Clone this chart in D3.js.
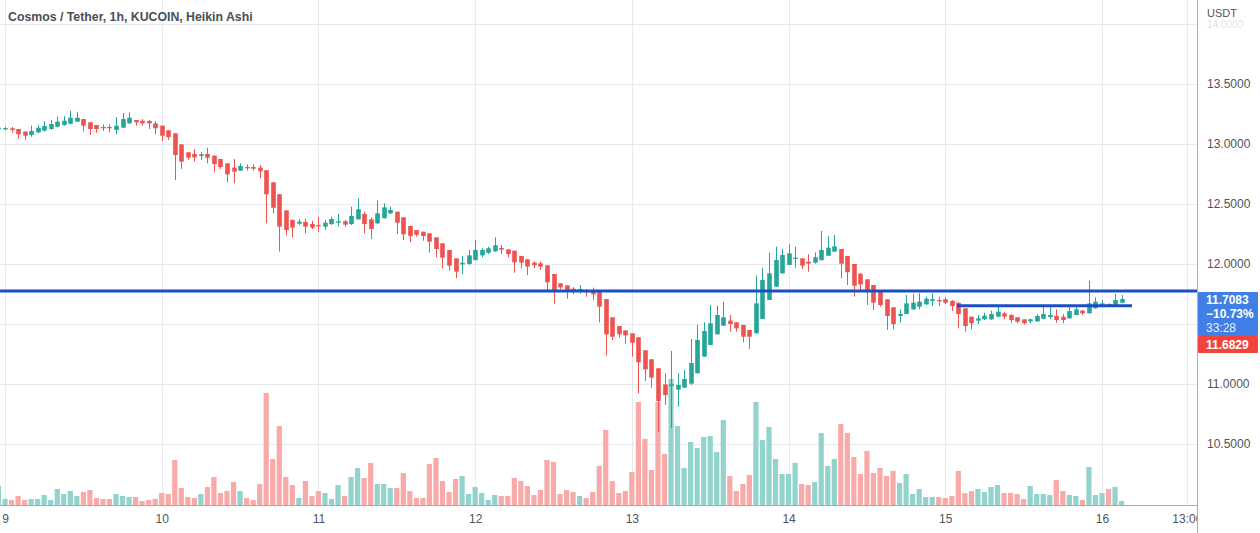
<!DOCTYPE html>
<html>
<head>
<meta charset="utf-8">
<script src="https://cdn.jsdelivr.net/npm/d3@7"></script>
<style>
html,body{margin:0;padding:0;background:#fff;}
svg{display:block;}
text{font-family:"Liberation Sans",Arial,sans-serif;}
</style>
</head>
<body>
<svg id="chart" width="1260" height="533"></svg>
<script>
// ---- data (hour index relative to day 9 00:00; first bar = day 8 23:00) ----
const title = "Cosmos / Tether, 1h, KUCOIN, Heikin Ashi";
const firstHour = -1;
const open = [13.122,13.122,13.131,13.125,13.103,13.075,13.097,13.111,13.125,13.144,13.158,13.169,13.186,13.208,13.181,13.158,13.142,13.142,13.117,13.136,13.172,13.200,13.194,13.192,13.172,13.153,13.114,13.089,12.997,12.931,12.917,12.900,12.917,12.903,12.875,12.839,12.803,12.778,12.808,12.808,12.803,12.781,12.681,12.581,12.447,12.367,12.336,12.350,12.333,12.325,12.311,12.333,12.344,12.356,12.333,12.372,12.417,12.372,12.339,12.381,12.422,12.436,12.389,12.317,12.283,12.269,12.256,12.222,12.172,12.117,12.047,11.997,12.000,12.033,12.072,12.094,12.106,12.133,12.122,12.111,12.067,12.039,12.011,12.006,11.989,11.917,11.839,11.822,11.794,11.775,11.781,11.775,11.769,11.708,11.556,11.483,11.447,11.422,11.389,11.281,11.206,11.131,10.997,10.983,10.953,10.969,11.003,11.089,11.228,11.325,11.414,11.486,11.528,11.514,11.492,11.450,11.422,11.542,11.700,11.811,11.922,11.992,12.042,12.047,12.019,12.011,12.031,12.069,12.103,12.125,12.067,12.000,11.920,11.872,11.825,11.769,11.706,11.639,11.567,11.583,11.622,11.644,11.664,11.692,11.700,11.706,11.692,11.678,11.631,11.561,11.528,11.539,11.539,11.561,11.589,11.575,11.556,11.539,11.522,11.522,11.544,11.558,11.567,11.561,11.547,11.575,11.611,11.589,11.631,11.658,11.667,11.658,11.678];
const high = [13.144,13.144,13.142,13.125,13.108,13.153,13.158,13.192,13.200,13.228,13.233,13.278,13.269,13.208,13.181,13.158,13.164,13.164,13.225,13.258,13.264,13.200,13.208,13.200,13.192,13.153,13.114,13.089,12.997,12.931,12.958,12.936,12.969,12.903,12.875,12.839,12.875,12.839,12.831,12.831,12.825,12.781,12.681,12.581,12.447,12.372,12.375,12.378,12.361,12.394,12.367,12.394,12.417,12.367,12.478,12.547,12.436,12.389,12.528,12.506,12.478,12.436,12.389,12.317,12.283,12.269,12.256,12.222,12.172,12.117,12.047,12.067,12.117,12.200,12.131,12.144,12.222,12.158,12.122,12.111,12.067,12.039,12.022,12.022,11.989,11.917,11.839,11.822,11.806,11.825,11.792,11.803,11.783,11.708,11.556,11.483,11.447,11.422,11.389,11.281,11.206,11.131,11.089,11.275,11.089,11.117,11.375,11.492,11.514,11.658,11.653,11.686,11.575,11.514,11.492,11.450,11.903,11.969,12.094,12.144,12.125,12.164,12.144,12.047,12.081,12.097,12.275,12.233,12.242,12.125,12.067,12.000,11.920,11.872,11.825,11.769,11.706,11.639,11.622,11.742,11.750,11.756,11.728,11.756,11.728,11.722,11.700,11.678,11.631,11.561,11.575,11.594,11.611,11.644,11.603,11.583,11.556,11.539,11.547,11.583,11.658,11.644,11.622,11.583,11.644,11.644,11.617,11.861,11.722,11.700,11.672,11.750,11.742];
const low = [13.114,13.114,13.092,13.042,13.033,13.061,13.089,13.103,13.119,13.139,13.153,13.164,13.186,13.103,13.075,13.094,13.108,13.097,13.081,13.131,13.167,13.153,13.153,13.125,13.081,13.025,13.033,12.700,12.792,12.867,12.853,12.867,12.839,12.764,12.792,12.681,12.672,12.778,12.778,12.778,12.714,12.339,12.422,12.103,12.236,12.222,12.325,12.256,12.292,12.269,12.283,12.325,12.311,12.311,12.325,12.372,12.256,12.208,12.333,12.381,12.417,12.250,12.200,12.181,12.228,12.194,12.094,12.056,11.964,11.944,11.881,11.917,11.992,12.028,12.056,12.083,12.100,12.083,12.056,11.928,11.964,11.908,11.964,11.950,11.769,11.667,11.789,11.711,11.750,11.756,11.728,11.700,11.514,11.236,11.367,11.386,11.331,11.228,10.922,11.025,10.969,10.600,10.825,10.630,10.811,10.969,10.992,11.089,11.228,11.325,11.414,11.486,11.436,11.436,11.347,11.292,11.422,11.542,11.700,11.811,11.922,11.992,11.969,11.958,11.936,12.003,12.031,12.069,12.103,11.881,11.825,11.728,11.778,11.658,11.617,11.644,11.450,11.456,11.511,11.583,11.617,11.622,11.658,11.650,11.650,11.667,11.608,11.464,11.436,11.456,11.500,11.533,11.533,11.556,11.539,11.511,11.506,11.497,11.506,11.517,11.539,11.539,11.511,11.506,11.544,11.572,11.575,11.589,11.628,11.644,11.650,11.656,11.672];
const close = [13.136,13.133,13.117,13.081,13.069,13.108,13.136,13.150,13.167,13.186,13.194,13.219,13.219,13.153,13.125,13.125,13.131,13.131,13.153,13.208,13.219,13.181,13.172,13.172,13.131,13.069,13.058,12.908,12.853,12.886,12.889,12.914,12.886,12.833,12.808,12.747,12.769,12.817,12.797,12.794,12.772,12.581,12.469,12.311,12.283,12.303,12.353,12.311,12.303,12.314,12.344,12.375,12.356,12.328,12.400,12.456,12.333,12.292,12.422,12.472,12.450,12.344,12.247,12.233,12.244,12.233,12.186,12.125,12.053,11.986,11.936,12.011,12.072,12.117,12.117,12.131,12.156,12.119,12.083,12.014,12.011,11.978,11.989,11.978,11.847,11.783,11.806,11.769,11.772,11.792,11.764,11.747,11.644,11.414,11.394,11.414,11.406,11.344,11.181,11.122,11.053,10.858,10.908,10.997,10.992,11.042,11.175,11.367,11.442,11.506,11.575,11.556,11.500,11.464,11.394,11.394,11.672,11.867,11.922,12.033,12.075,12.089,12.053,11.986,12.003,12.056,12.117,12.136,12.147,12.003,11.931,11.819,11.830,11.769,11.678,11.658,11.567,11.500,11.583,11.672,11.678,11.686,11.711,11.706,11.689,11.678,11.650,11.583,11.483,11.506,11.547,11.569,11.583,11.603,11.561,11.533,11.519,11.506,11.539,11.567,11.583,11.575,11.533,11.533,11.608,11.622,11.589,11.672,11.686,11.672,11.653,11.700,11.708];
const volume = [19,6,5,9,5,6,6,10,5,16,11,14,9,13,15,7,6,6,11,9,8,8,4,5,6,12,11,45,17,8,7,11,18,28,12,14,23,14,7,5,21,112,46,79,28,20,7,24,9,14,12,6,20,9,28,37,27,42,21,21,17,17,32,14,7,7,41,47,24,13,26,29,11,18,12,5,10,9,9,27,24,19,10,15,45,43,11,15,13,9,7,13,39,75,24,12,14,33,103,66,35,103,51,126,79,37,63,57,68,69,53,85,29,14,21,30,103,65,78,46,31,31,42,21,20,23,72,39,46,81,72,48,31,54,32,37,29,34,22,31,11,16,8,8,8,7,9,34,12,14,16,13,18,20,12,12,11,6,19,11,11,10,25,14,10,9,5,38,10,12,16,18,4];

const gridPrices = [10.5, 11.0, 11.5, 12.0, 12.5, 13.0, 13.5, 14.0];
const priceLabels = [10.5, 11.0, 12.0, 12.5, 13.0, 13.5];   // 11.5 sits under the last-price tag
const fadedLabel = 14.0;                                    // partly hidden under the currency label
const timeTickHours = [0, 24, 48, 72, 96, 120, 144, 168, 181];
const timeTickLabels = ["9", "10", "11", "12", "13", "14", "15", "16", "13:00"];
const hLines = [ {price: 11.775, from: null, to: null}, {price: 11.653, from: 145.8, to: 172.6} ];
const lastPrice = "11.7083", lastChange = "\u221210.73%", countdown = "33:28", otherPrice = "11.6829";

// ---- layout ----
const W = 1260, H = 533;
const plotRight = 1197, plotBottom = 505;
const svg = d3.select("#chart");
const x = d3.scaleLinear().domain([0, 168]).range([5, 1102]);
const y = d3.scaleLinear().domain([10.5, 14.0]).range([444, 24]);
const vMax = d3.max(volume);
const yv = d3.scaleLinear().domain([0, vMax]).range([plotBottom, plotBottom - 126]);

const UP = "#26a69a", DOWN = "#ef5350";
const UPV = "#92d3cd", DOWNV = "#f8aaa8";
const GRID = "#e7e9ec";
const AXTXT = "#50535e";

const bars = open.map((o, k) => ({h: firstHour + k, o, hi: high[k], lo: low[k], c: close[k], v: volume[k]}));

svg.append("defs").append("clipPath").attr("id", "plotclip")
  .append("rect").attr("x", 0).attr("y", 0).attr("width", plotRight).attr("height", plotBottom);

// grid
const grid = svg.append("g");
grid.selectAll("line.hg").data(gridPrices).join("line")
  .attr("x1", 0).attr("x2", plotRight).attr("y1", d => Math.round(y(d)) + 0.5).attr("y2", d => Math.round(y(d)) + 0.5)
  .attr("stroke", GRID).attr("stroke-width", 1);
grid.selectAll("line.vg").data(timeTickHours).join("line")
  .attr("x1", d => Math.round(x(d)) + 0.5).attr("x2", d => Math.round(x(d)) + 0.5)
  .attr("y1", 0).attr("y2", plotBottom)
  .attr("stroke", GRID).attr("stroke-width", 1);

const plot = svg.append("g").attr("clip-path", "url(#plotclip)");

// volume
const bw = 5.2;
plot.append("g").selectAll("rect").data(bars).join("rect")
  .attr("x", d => x(d.h) - bw / 2)
  .attr("width", bw)
  .attr("y", d => yv(d.v))
  .attr("height", d => plotBottom - yv(d.v))
  .attr("fill", d => d.c >= d.o ? UPV : DOWNV);

// candles
const cw = 4.6;
const cg = plot.append("g").selectAll("g").data(bars).join("g");
cg.append("line")
  .attr("x1", d => Math.round(x(d.h)) + 0.5).attr("x2", d => Math.round(x(d.h)) + 0.5)
  .attr("y1", d => y(d.hi)).attr("y2", d => y(d.lo))
  .attr("stroke", d => d.c >= d.o ? UP : DOWN).attr("stroke-width", 1);
cg.append("rect")
  .attr("x", d => Math.round(x(d.h)) + 0.5 - cw / 2)
  .attr("width", cw)
  .attr("y", d => y(Math.max(d.o, d.c)))
  .attr("height", d => Math.max(1, Math.abs(y(d.o) - y(d.c))))
  .attr("fill", d => d.c >= d.o ? UP : DOWN);

// drawn horizontal lines
plot.append("g").selectAll("line").data(hLines).join("line")
  .attr("x1", d => d.from == null ? 0 : x(d.from))
  .attr("x2", d => d.to == null ? plotRight : x(d.to))
  .attr("y1", d => y(d.price)).attr("y2", d => y(d.price))
  .attr("stroke", "#1a4fc4").attr("stroke-width", 3);

// axes lines
svg.append("line").attr("x1", plotRight + 0.5).attr("x2", plotRight + 0.5).attr("y1", 0).attr("y2", H)
  .attr("stroke", "#9fb3bb").attr("stroke-width", 1);
svg.append("line").attr("x1", 0).attr("x2", plotRight).attr("y1", plotBottom + 0.5).attr("y2", plotBottom + 0.5)
  .attr("stroke", "#9fb3bb").attr("stroke-width", 1);

// price axis
const pa = svg.append("g").attr("transform", `translate(${plotRight},0)`)
  .call(d3.axisRight(y).tickValues(priceLabels).tickSize(0).tickPadding(10).tickFormat(d3.format(".4f")));
pa.select(".domain").remove();
pa.selectAll("text").attr("font-size", 12).attr("fill", AXTXT)
  .attr("font-family", "Liberation Sans, Arial, sans-serif");

svg.append("text").attr("x", 1207).attr("y", 27.5).attr("font-size", 10).attr("fill", AXTXT)
  .attr("fill-opacity", 0.2).text(d3.format(".4f")(fadedLabel));
svg.append("text").attr("x", 1207).attr("y", 17).attr("font-size", 11).attr("fill", AXTXT).text("USDT");

// time axis (clipped at price axis)
svg.append("defs").append("clipPath").attr("id", "timeclip")
  .append("rect").attr("x", 0).attr("y", plotBottom).attr("width", plotRight).attr("height", H - plotBottom);
const ta = svg.append("g").attr("clip-path", "url(#timeclip)")
  .append("g").attr("transform", `translate(0,${plotBottom})`)
  .call(d3.axisBottom(x).tickValues(timeTickHours).tickSize(0).tickPadding(9)
    .tickFormat((d, k) => timeTickLabels[k]));
ta.select(".domain").remove();
ta.selectAll("text").attr("font-size", 12).attr("fill", AXTXT)
  .attr("font-family", "Liberation Sans, Arial, sans-serif");

// last price labels
const lab = svg.append("g");
lab.append("rect").attr("x", 1198).attr("y", 292).attr("width", 60).attr("height", 44).attr("fill", "#3f7fe6").attr("rx", 1);
lab.append("text").attr("x", 1206).attr("y", 303.5).attr("font-size", 12).attr("font-weight", "bold").attr("fill", "#fff").text(lastPrice);
lab.append("text").attr("x", 1206).attr("y", 317.5).attr("font-size", 12).attr("font-weight", "bold").attr("fill", "#fff").text(lastChange);
lab.append("text").attr("x", 1206).attr("y", 331.5).attr("font-size", 12).attr("fill", "#e6eefc").text(countdown);
lab.append("rect").attr("x", 1198).attr("y", 336).attr("width", 60).attr("height", 17).attr("fill", "#f0443c").attr("rx", 1);
lab.append("text").attr("x", 1206).attr("y", 348.5).attr("font-size", 12).attr("font-weight", "bold").attr("fill", "#fff").text(otherPrice);

// title
svg.append("text").attr("x", 8).attr("y", 21).attr("font-size", 12.3).attr("font-weight", 600)
  .attr("font-family", "Open Sans, Liberation Sans, Arial, sans-serif")
  .attr("fill", "#4a4d57").text(title);
</script>
</body>
</html>
